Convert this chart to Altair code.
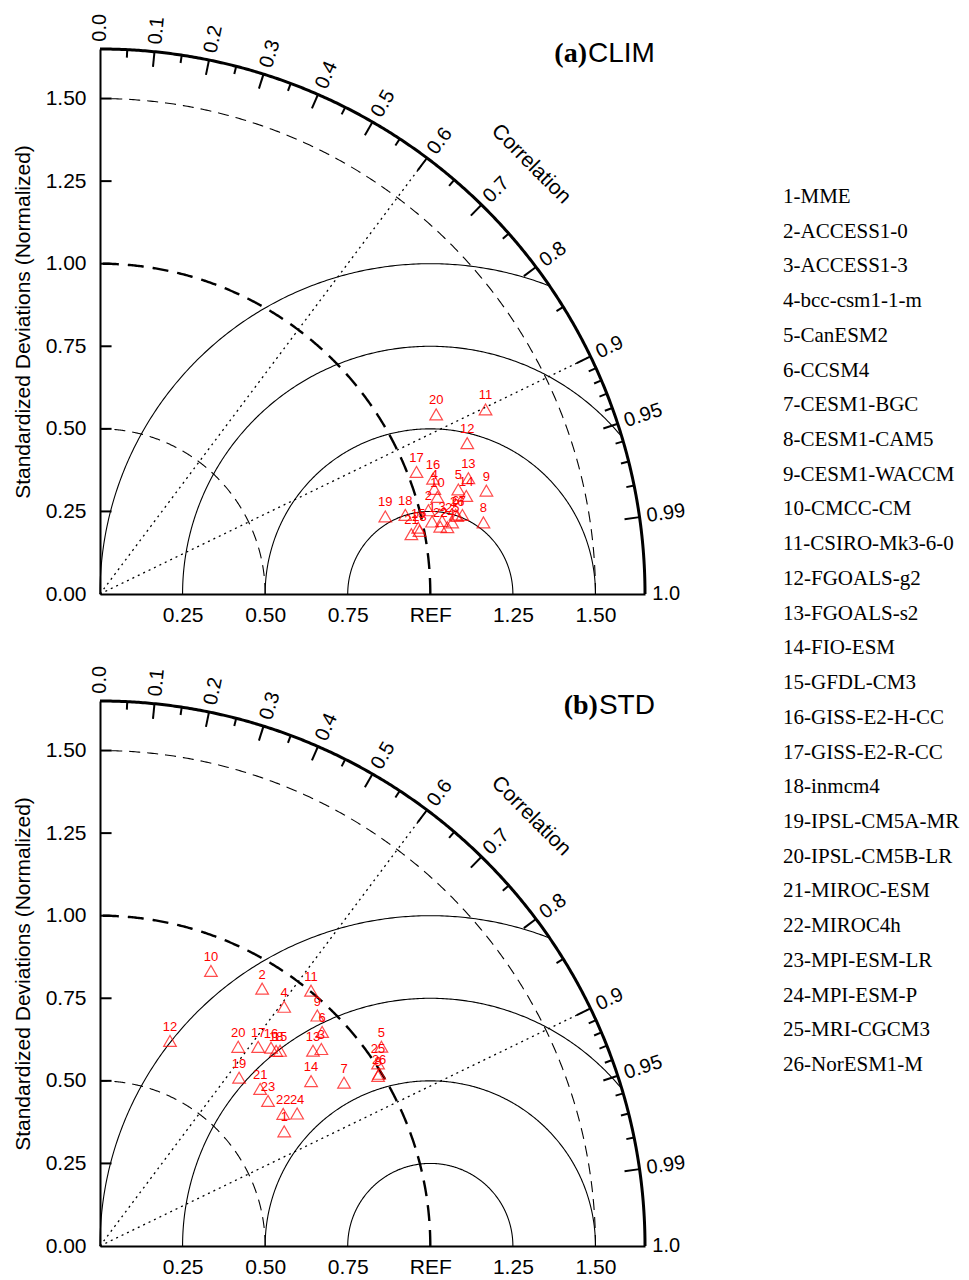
import numpy as np
import pandas as pd
import altair as alt

models = ["MME", "ACCESS1-0", "ACCESS1-3", "bcc-csm1-1-m", "CanESM2", "CCSM4",
          "CESM1-BGC", "CESM1-CAM5", "CESM1-WACCM", "CMCC-CM", "CSIRO-Mk3-6-0",
          "FGOALS-g2", "FGOALS-s2", "FIO-ESM", "GFDL-CM3", "GISS-E2-H-CC",
          "GISS-E2-R-CC", "inmcm4", "IPSL-CM5A-MR", "IPSL-CM5B-LR", "MIROC-ESM",
          "MIROC4h", "MPI-ESM-LR", "MPI-ESM-P", "MRI-CGCM3", "NorESM1-M"]

# (a) CLIM : normalized standard deviation and correlation
clim_std = [1.029, 1.026, 1.059, 1.061, 1.130, 1.103, 1.123, 1.181, 1.211, 1.063,
            1.294, 1.202, 1.169, 1.148, 0.984, 1.067, 1.027, 0.955, 0.895, 1.154,
            0.960, 1.050, 0.986, 1.071, 1.088, 1.107]
clim_corr = [0.977, 0.969, 0.978, 0.954, 0.960, 0.976, 0.977, 0.983, 0.966, 0.961,
             0.902, 0.925, 0.954, 0.966, 0.979, 0.945, 0.933, 0.968, 0.965, 0.882,
             0.982, 0.981, 0.981, 0.982, 0.980, 0.977]

# (b) STD : normalized standard deviation and correlation
std_std = [0.657, 0.921, 0.897, 0.914, 1.044, 0.934, 0.889, 0.987, 0.959, 0.898,
           1.003, 0.656, 0.875, 0.811, 0.804, 0.793, 0.770, 0.796, 0.661, 0.734,
           0.679, 0.684, 0.672, 0.719, 1.007, 0.993]
std_corr = [0.849, 0.533, 0.747, 0.610, 0.816, 0.720, 0.831, 0.853, 0.686, 0.374,
            0.637, 0.323, 0.737, 0.788, 0.678, 0.653, 0.622, 0.670, 0.637, 0.570,
            0.714, 0.811, 0.757, 0.830, 0.836, 0.851]

RMAX = 1.65
std_ticks = [0.0, 0.25, 0.5, 0.75, 1.0, 1.25, 1.5]
x_ticks = [0.25, 0.5, 0.75, 1.0, 1.25, 1.5]
corr_major = [0.1, 0.2, 0.3, 0.4, 0.5, 0.6, 0.7, 0.8, 0.9, 0.95, 0.99]
corr_minor = [0.05, 0.15, 0.25, 0.35, 0.45, 0.55, 0.65, 0.75, 0.85,
              0.91, 0.92, 0.93, 0.94, 0.96, 0.97, 0.98]
corr_labels = [0.0, 0.1, 0.2, 0.3, 0.4, 0.5, 0.6, 0.7, 0.8, 0.9, 0.95, 0.99, 1.0]
rms_radii = [0.25, 0.5, 0.75, 1.0]
std_dashed = [0.5, 1.5]
radial_corr = [0.6, 0.9]

SANS = "Liberation Sans"
SERIF = "Liberation Serif"
RED = "#ff0000"

xs = alt.Scale(domain=[0, RMAX], nice=False, zero=False)
ys = alt.Scale(domain=[0, RMAX], nice=False, zero=False)

X_AXIS = alt.Axis(values=x_ticks, labelExpr="datum.value == 1 ? 'REF' : format(datum.value, '.2f')",
                  ticks=False, grid=False, title=None, labelFont=SANS, labelFontSize=21,
                  labelColor="black", labelPadding=10, domainColor="black", domainWidth=2,
                  labelFlush=False, labelOverlap=False)
Y_AXIS = alt.Axis(values=std_ticks, format=".2f", ticks=False, grid=False,
                  title="Standardized Deviations (Normalized)", titleFont=SANS, titleFontSize=21,
                  titleFontWeight="normal", titleColor="black", titlePadding=12,
                  labelFont=SANS, labelFontSize=21, labelColor="black", labelPadding=14,
                  domainColor="black", domainWidth=2, labelFlush=False, labelOverlap=False)

# approximate Liberation Sans advance widths (em) for the panel names
CW = {"C": 0.722, "L": 0.556, "I": 0.278, "M": 0.833, "S": 0.667, "T": 0.611, "D": 0.722}


def X():
    return alt.X("x:Q", scale=xs, axis=X_AXIS)


def Y():
    return alt.Y("y:Q", scale=ys, axis=Y_AXIS)


def arcs(cx, radii, t1, n=400):
    rows = []
    for g, r in enumerate(radii):
        t = np.linspace(0, t1, n)
        x = cx + r * np.cos(t)
        y = r * np.sin(t)
        keep = x ** 2 + y ** 2 <= RMAX ** 2 + 1e-9
        for i, (a, b) in enumerate(zip(x[keep], y[keep])):
            rows.append({"x": a, "y": b, "i": i, "g": g})
    return pd.DataFrame(rows)


def line_layer(df, width, dash=None):
    kw = dict(color="black", strokeWidth=width, clip=False)
    if dash:
        kw["strokeDash"] = dash
    return alt.Chart(df).mark_line(**kw).encode(
        x=X(), y=Y(), order="i:Q", detail="g:N")


def panel(std, corr, tag, name):
    std = np.array(std)
    corr = np.array(corr)
    th = np.arccos(corr)
    pts = pd.DataFrame({"x": std * corr, "y": std * np.sin(th),
                        "lab": [str(i + 1) for i in range(len(std))]})

    layers = []
    layers.append(line_layer(arcs(1.0, rms_radii, np.pi), 1.1))
    layers.append(line_layer(arcs(0.0, std_dashed, np.pi / 2), 1.1, [11, 7]))
    layers.append(line_layer(arcs(0.0, [1.0], np.pi / 2), 2.4, [16, 9]))

    rad = pd.DataFrame({"x": [0.0] * len(radial_corr), "y": [0.0] * len(radial_corr),
                        "x2": [RMAX * c for c in radial_corr],
                        "y2": [RMAX * np.sqrt(1 - c * c) for c in radial_corr]})
    layers.append(alt.Chart(rad).mark_rule(color="black", strokeWidth=1.3, strokeDash=[2, 4]).encode(
        x=X(), y=Y(), x2="x2:Q", y2="y2:Q"))

    layers.append(line_layer(arcs(0.0, [RMAX], np.pi / 2), 3))

    tk = []
    for c in corr_major + corr_minor:
        L = 0.046 if c in corr_major else 0.024
        s = np.sqrt(1 - c * c)
        tk.append({"x": RMAX * c, "y": RMAX * s, "x2": (RMAX - L) * c, "y2": (RMAX - L) * s})
    for v in std_ticks[1:]:
        tk.append({"x": 0.0, "y": v, "x2": 0.035, "y2": v})
    layers.append(alt.Chart(pd.DataFrame(tk)).mark_rule(color="black", strokeWidth=2).encode(
        x=X(), y=Y(), x2="x2:Q", y2="y2:Q"))

    cl = []
    for c in corr_labels:
        t = np.degrees(np.arccos(c))
        s = np.sqrt(1 - c * c)
        cl.append({"x": 1.672 * c, "y": 1.672 * s, "t": f"{c:g}" if c not in (0.0, 1.0) else f"{c:.1f}",
                   "a": (360 - t) % 360})
    layers.append(alt.Chart(pd.DataFrame(cl)).mark_text(
        font=SANS, fontSize=20, align="left", baseline="middle", color="black").encode(
        x=X(), y=Y(), text="t:N", angle=alt.Angle("a:Q", scale=None)))

    ct = np.arccos(0.708)
    cdf = pd.DataFrame({"x": [1.843 * np.cos(ct)], "y": [1.843 * np.sin(ct)], "t": ["Correlation"],
                        "a": [90 - np.degrees(ct)]})
    layers.append(alt.Chart(cdf).mark_text(
        font=SANS, fontSize=21, align="center", baseline="middle", color="black").encode(
        x=X(), y=Y(), text="t:N", angle=alt.Angle("a:Q", scale=None)))

    layers.append(alt.Chart(pts).mark_point(
        shape="triangle-up", filled=False, color=RED, size=160, strokeWidth=1.2).encode(x=X(), y=Y()))
    layers.append(alt.Chart(pts).mark_text(
        font=SANS, fontSize=13, color=RED, dy=-14, baseline="middle").encode(
        x=X(), y=Y(), text="lab:N"))

    fs = 28
    wname = sum(CW[ch] for ch in name) * fs
    tdf = pd.DataFrame({"x": [1.68], "y": [1.636], "t": [name]})
    layers.append(alt.Chart(tdf).mark_text(
        font=SANS, fontSize=fs, align="right", baseline="middle", color="black").encode(
        x=X(), y=Y(), text="t:N"))
    layers.append(alt.Chart(tdf).mark_text(
        font=SERIF, fontSize=fs, fontWeight="bold", align="right", baseline="middle", color="black",
        dx=-(wname + 1)).encode(x=X(), y=Y(), text=alt.value(tag)))

    return alt.layer(*layers).properties(width=545, height=545)


pa = panel(clim_std, clim_corr, "(a)", "CLIM")
pb = panel(std_std, std_corr, "(b)", "STD")

leg = pd.DataFrame({"idx": list(range(1, len(models) + 1)),
                    "t": [f"{i + 1}-{m}" for i, m in enumerate(models)]})
legend = alt.Chart(leg).mark_text(font=SERIF, fontSize=21, align="left", baseline="middle",
                                  color="black").encode(
    x=alt.value(0),
    y=alt.Y("idx:Q", scale=alt.Scale(domain=[1, 26], range=[148, 1016]), axis=None),
    text="t:N").properties(width=180, height=1197)

left = alt.vconcat(pa, pb, spacing=107, bounds="flush")
chart = alt.hconcat(left, legend, spacing=96).properties(
    padding={"left": 12, "top": 13, "right": 5, "bottom": 5}
).configure_view(stroke=None)

chart.save("out.html", embed_options={"renderer": "svg", "actions": False})
